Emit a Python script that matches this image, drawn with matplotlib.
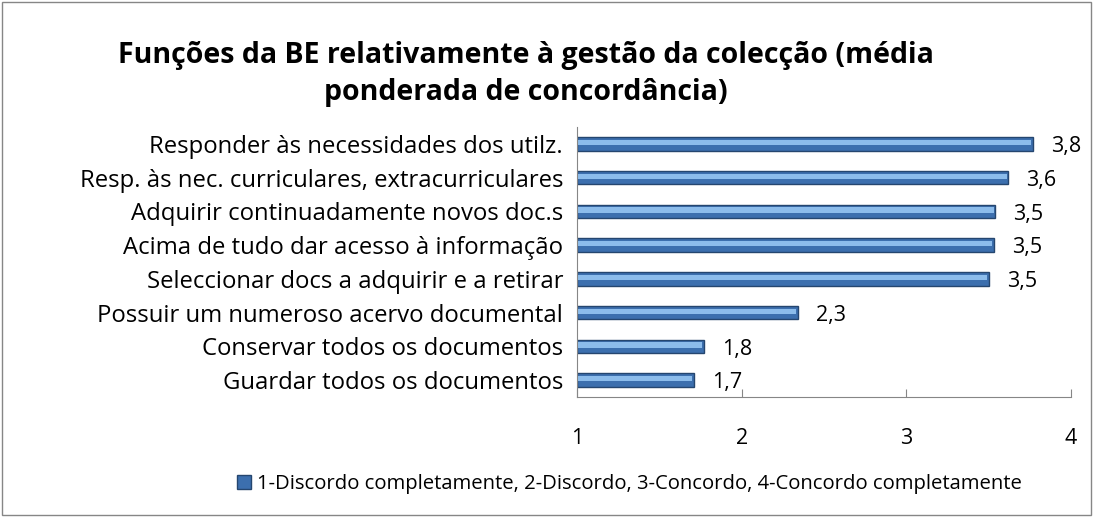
import matplotlib.pyplot as plt
from matplotlib.patches import Rectangle

categories = [
    'Responder às necessidades dos utilz.',
    'Resp. às nec. curriculares, extracurriculares',
    'Adquirir continuadamente novos doc.s',
    'Acima de tudo dar acesso à informação',
    'Seleccionar docs a adquirir e a retirar',
    'Possuir um numeroso acervo documental',
    'Conservar todos os documentos',
    'Guardar todos os documentos',
]
values = [3.77, 3.62, 3.54, 3.53, 3.50, 2.34, 1.77, 1.71]
labels = ['3,8', '3,6', '3,5', '3,5', '3,5', '2,3', '1,8', '1,7']
series_name = '1-Discordo completamente, 2-Discordo, 3-Concordo, 4-Concordo completamente'
title = 'Funções da BE relativamente à gestão da colecção (média\nponderada de concordância)'

plt.rcParams['font.family'] = ['Open Sans', 'DejaVu Sans']

fig = plt.figure(figsize=(10.93, 5.17), dpi=100)
ax = fig.add_axes([577 / 1093, 1 - 397 / 517, (1071 - 577) / 1093, (397 - 127) / 517])

ypos = list(range(len(categories)))[::-1]
widths = [v - 1 for v in values]
ax.barh(ypos, widths, left=1, height=0.4, color='#3C6FAE', edgecolor='#25466F', linewidth=1.0,
        label=series_name)
# lighter highlight stripe on each bar
ax.barh([y + 0.04 for y in ypos], [w - 0.01 for w in widths], left=1, height=0.16, color='#8CBCEB',
        linewidth=0)

for y, v, t in zip(ypos, values, labels):
    ax.text(v + 0.11, y - 0.08, t, va='center', ha='left', fontsize=15.5)

ax.set_xlim(1, 4)
ax.set_ylim(-0.5, len(categories) - 0.5)
ax.set_xticks([1, 2, 3, 4])
ax.set_xticklabels(['1', '2', '3', '4'], fontsize=15.5)
ax.set_yticks(ypos)
ax.set_yticklabels(categories, fontsize=17.2)
ax.tick_params(axis='y', length=0, pad=10)
ax.tick_params(axis='x', direction='in', length=6, color='#868686', pad=22)
for s in ['top', 'right']:
    ax.spines[s].set_visible(False)
for s in ['left', 'bottom']:
    ax.spines[s].set_color('#868686')

fig.text(0.481, 1 - 74 / 517, title, ha='center', va='center', fontsize=20.5, fontweight='bold',
         linespacing=1.35)

handles, _ = ax.get_legend_handles_labels()
fig.legend(handles[:1], [series_name], loc='center', bbox_to_anchor=(0.576, 1 - 484 / 517), frameon=False,
           fontsize=14.6, handlelength=0.65, handleheight=0.65, handletextpad=0.3)

fig.patches.append(Rectangle((2 / 1093, 2 / 517), 1 - 4 / 1093, 1 - 4 / 517, transform=fig.transFigure,
                             fill=False, edgecolor='#868686', linewidth=1))

fig.savefig('out.png', dpi=100)
